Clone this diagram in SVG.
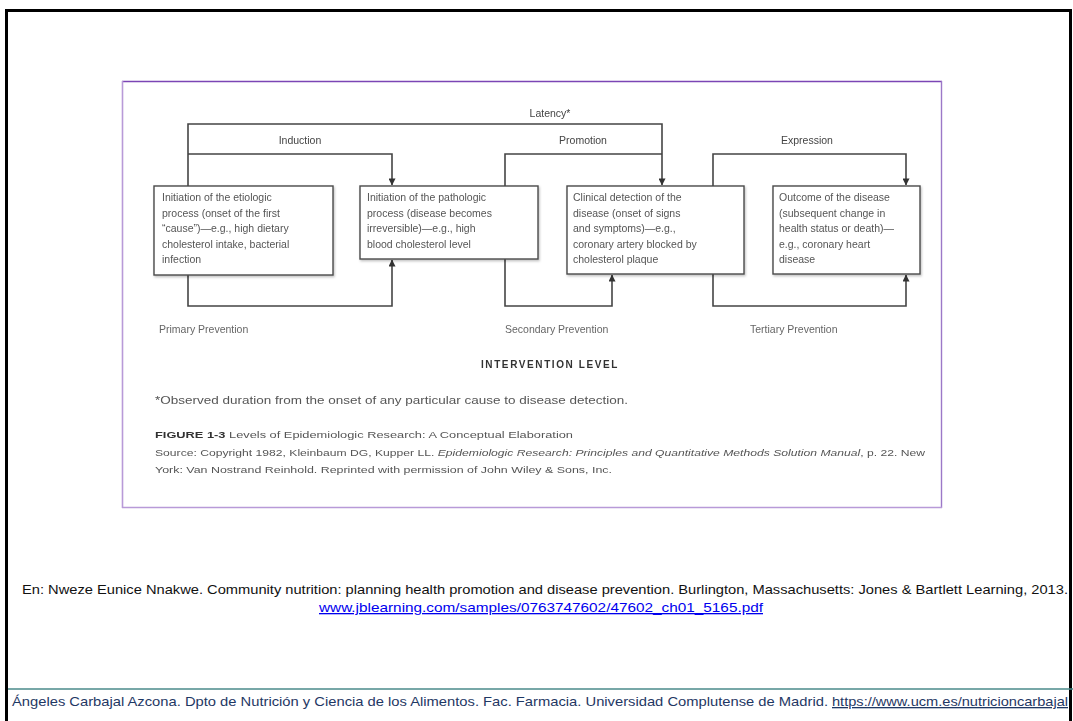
<svg xmlns="http://www.w3.org/2000/svg" width="1073" height="721" viewBox="0 0 1073 721">
  <style>
    .fig { font-family: "Liberation Sans", Arial, sans-serif; fill: #555; }
    .box rect { fill: #fff; stroke: #4a4a4a; stroke-width: 1.4; }
    .boxtxt { font-size: 10.5px; }
    .stage { font-size: 10.5px; fill: #444; }
    .prev { font-size: 10.5px; fill: #666; }
    .wire { fill: none; stroke: #444; stroke-width: 1.6; }
    .note { font-family: "Liberation Sans", Arial, sans-serif; font-size: 13px; fill: #111; }
    .link { fill: #0000ee; text-decoration: underline; }
    .foot { font-family: "Liberation Sans", Arial, sans-serif; font-size: 13px; fill: #1f3864; }
  </style>
  <defs>
    <marker id="arr" viewBox="0 0 8 8" refX="7.5" refY="4" markerWidth="7" markerHeight="7" orient="auto" markerUnits="userSpaceOnUse">
      <path d="M0,0 L8,4 L0,8 Z" fill="#333"/>
    </marker>
    <filter id="soft" x="-5%" y="-5%" width="110%" height="110%">
      <feGaussianBlur stdDeviation="0.45"/>
    </filter>
    <filter id="shadow" x="-5%" y="-5%" width="115%" height="120%">
      <feDropShadow dx="1" dy="1.5" stdDeviation="1" flood-color="#000" flood-opacity="0.25"/>
    </filter>
  </defs>

  <rect width="1073" height="721" fill="#fff"/>

  <!-- slide frame -->
  <g id="frame" fill="none" stroke="#000" stroke-width="3">
    <path d="M6.5,721 V10.5 H1070.5 V721"/>
  </g>

  <!-- figure panel border -->
  <g id="panel">
    <rect x="122" y="81" width="820" height="427" fill="#fff"/>
    <line x1="122" y1="81.5" x2="942" y2="81.5" stroke="#7b45b5" stroke-width="1.6"/>
    <line x1="122.5" y1="81" x2="122.5" y2="508" stroke="#b89ad8" stroke-width="1.6"/>
    <line x1="941.5" y1="81" x2="941.5" y2="508" stroke="#9c78c8" stroke-width="1.4"/>
    <line x1="122" y1="507.5" x2="942" y2="507.5" stroke="#b89ad8" stroke-width="1.6"/>
  </g>

  <g id="figure" filter="url(#soft)">
    <!-- connectors -->
    <g id="connectors" class="wire">
      <!-- latency -->
      <path d="M188,186 V124 H662 V185" marker-end="url(#arr)"/>
      <!-- induction -->
      <path d="M188,154 H392 V185" marker-end="url(#arr)"/>
      <!-- promotion -->
      <path d="M505,186 V154 H662"/>
      <!-- expression -->
      <path d="M713,186 V154 H906 V185" marker-end="url(#arr)"/>
      <!-- primary prevention -->
      <path d="M188,275 V306 H392 V260" marker-end="url(#arr)"/>
      <!-- secondary prevention -->
      <path d="M505,259 V306 H612 V275" marker-end="url(#arr)"/>
      <!-- tertiary prevention -->
      <path d="M713,274 V306 H906 V275" marker-end="url(#arr)"/>
    </g>

    <!-- stage labels -->
    <g id="labels" class="fig stage" text-anchor="middle">
      <text x="550" y="117">Latency*</text>
      <text x="300" y="144">Induction</text>
      <text x="583" y="144">Promotion</text>
      <text x="807" y="144">Expression</text>
    </g>

    <g id="box-initiation-etiologic" class="box fig boxtxt">
      <rect x="154" y="186" width="179" height="89" filter="url(#shadow)"/>
      <text x="162" y="201">Initiation of the etiologic</text>
      <text x="162" y="216.5">process (onset of the first</text>
      <text x="162" y="232">“cause”)—e.g., high dietary</text>
      <text x="162" y="247.5">cholesterol intake, bacterial</text>
      <text x="162" y="263">infection</text>
    </g>

    <g id="box-initiation-pathologic" class="box fig boxtxt">
      <rect x="360" y="186" width="178" height="73" filter="url(#shadow)"/>
      <text x="367" y="201">Initiation of the pathologic</text>
      <text x="367" y="216.5">process (disease becomes</text>
      <text x="367" y="232">irreversible)—e.g., high</text>
      <text x="367" y="247.5">blood cholesterol level</text>
    </g>

    <g id="box-clinical-detection" class="box fig boxtxt">
      <rect x="567" y="186" width="177" height="88" filter="url(#shadow)"/>
      <text x="573" y="201">Clinical detection of the</text>
      <text x="573" y="216.5">disease (onset of signs</text>
      <text x="573" y="232">and symptoms)—e.g.,</text>
      <text x="573" y="247.5">coronary artery blocked by</text>
      <text x="573" y="263">cholesterol plaque</text>
    </g>

    <g id="box-outcome" class="box fig boxtxt">
      <rect x="773" y="186" width="147" height="88" filter="url(#shadow)"/>
      <text x="779" y="201">Outcome of the disease</text>
      <text x="779" y="216.5">(subsequent change in</text>
      <text x="779" y="232">health status or death)—</text>
      <text x="779" y="247.5">e.g., coronary heart</text>
      <text x="779" y="263">disease</text>
    </g>

    <!-- intervention levels -->
    <g id="prevention-labels" class="fig prev">
      <text x="159" y="333">Primary Prevention</text>
      <text x="505" y="333">Secondary Prevention</text>
      <text x="750" y="333">Tertiary Prevention</text>
    </g>
    <text x="550" y="368" text-anchor="middle" font-family="Liberation Sans, Arial, sans-serif" font-size="10px" font-weight="bold" letter-spacing="1.6" fill="#333">INTERVENTION LEVEL</text>

    <!-- footnote and caption -->
    <g id="caption" class="fig" fill="#555">
      <text x="155" y="404" font-size="10.5px" textLength="473" lengthAdjust="spacingAndGlyphs">*Observed duration from the onset of any particular cause to disease detection.</text>
      <text x="155" y="438" font-size="9px" textLength="418" lengthAdjust="spacingAndGlyphs"><tspan font-weight="bold" fill="#333">FIGURE 1-3</tspan>  Levels of Epidemiologic Research: A Conceptual Elaboration</text>
      <text x="155" y="456" font-size="9px" textLength="770" lengthAdjust="spacingAndGlyphs">Source: Copyright 1982, Kleinbaum DG, Kupper LL. <tspan font-style="italic">Epidemiologic Research: Principles and Quantitative Methods Solution Manual</tspan>, p. 22. New</text>
      <text x="155" y="473" font-size="9px" textLength="457" lengthAdjust="spacingAndGlyphs">York: Van Nostrand Reinhold. Reprinted with permission of John Wiley &amp; Sons, Inc.</text>
    </g>
  </g>

  <!-- reference -->
  <g id="reference">
    <text class="note" x="22" y="594" textLength="1046" lengthAdjust="spacingAndGlyphs">En: Nweze Eunice Nnakwe. Community nutrition: planning health promotion and disease prevention. Burlington, Massachusetts: Jones &amp; Bartlett Learning, 2013.</text>
    <text class="note link" x="319" y="612" textLength="444" lengthAdjust="spacingAndGlyphs">www.jblearning.com/samples/0763747602/47602_ch01_5165.pdf</text>
  </g>

  <!-- footer -->
  <g id="footer">
    <line x1="8" y1="689" x2="1073" y2="689" stroke="#4a8a8a" stroke-width="1.5"/>
    <text class="foot" x="12" y="706" textLength="816" lengthAdjust="spacingAndGlyphs">Ángeles Carbajal Azcona. Dpto de Nutrición y Ciencia de los Alimentos. Fac. Farmacia. Universidad Complutense de Madrid.</text>
    <text class="foot link" x="832" y="706" textLength="236" lengthAdjust="spacingAndGlyphs">https://www.ucm.es/nutricioncarbajal</text>
  </g>
</svg>
